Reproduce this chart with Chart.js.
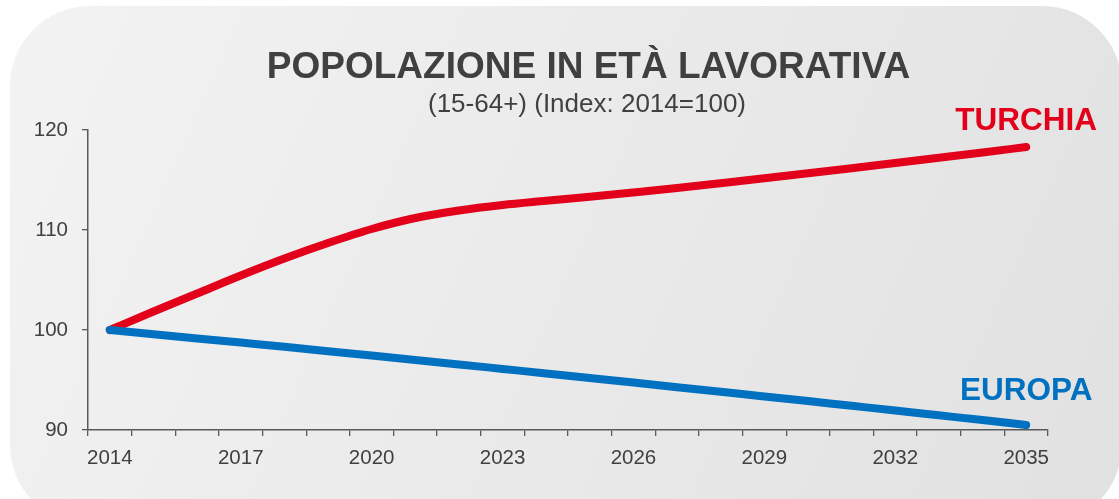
<!DOCTYPE html>
<html><head><meta charset="utf-8">
<script src="https://cdn.jsdelivr.net/npm/chart.js@4.4.1/dist/chart.umd.min.js"></script>
<style>html,body{margin:0;padding:0;background:#fff;overflow:hidden}#wrap{width:1119px;height:499px;position:relative}</style>
</head><body><div id="wrap"><canvas id="c" width="1119" height="499"></canvas></div>
<script>
const years = ['2014','2015','2016','2017','2018','2019','2020','2021','2022','2023','2024','2025','2026','2027','2028','2029','2030','2031','2032','2033','2034','2035'];
const turchia = [100.0,101.85,103.65,105.45,107.15,108.7,110.1,111.2,111.95,112.5,112.92,113.33,113.76,114.2,114.68,115.17,115.67,116.18,116.7,117.22,117.75,118.3];
const europa = [100.0,99.58,99.16,98.74,98.32,97.88,97.44,97.0,96.56,96.11,95.66,95.2,94.74,94.28,93.82,93.36,92.89,92.42,91.95,91.47,90.99,90.5];
const yTicks = [90,100,110,120];
const seriesNames = ['TURCHIA','EUROPA'];
const titleText = 'POPOLAZIONE IN ETÀ LAVORATIVA';
const subtitleText = '(15-64+) (Index: 2014=100)';

const FONT = "'Liberation Sans', Arial, sans-serif";
const labelOffsets = { TURCHIA: -17, EUROPA: -25 };

const decor = {
  id: 'decor',
  beforeDraw(chart) {
    const ctx = chart.ctx;
    ctx.save();
    ctx.fillStyle = '#ffffff';
    ctx.fillRect(0, 0, chart.width, chart.height);
    const g = ctx.createLinearGradient(10, 6, 1119, 499);
    g.addColorStop(0, '#f3f3f3');
    g.addColorStop(1, '#e1e1e1');
    ctx.fillStyle = g;
    ctx.beginPath();
    ctx.roundRect(10, 6, 1112, 519, 80);
    ctx.fill();
    ctx.fillStyle = '#404040';
    ctx.textAlign = 'center';
    ctx.textBaseline = 'alphabetic';
    ctx.font = 'bold 37px ' + FONT;
    ctx.fillText(titleText, 588.5, 78);
    ctx.font = '26px ' + FONT;
    ctx.fillText(subtitleText, 587, 112);
    ctx.restore();
  },
  afterDatasetsDraw(chart) {
    const ctx = chart.ctx;
    ctx.save();
    ctx.textAlign = 'center';
    ctx.textBaseline = 'alphabetic';
    ctx.font = 'bold 31.5px ' + FONT;
    chart.data.datasets.forEach((ds, i) => {
      const meta = chart.getDatasetMeta(i);
      const pt = meta.data[meta.data.length - 1];
      ctx.fillStyle = ds.borderColor;
      ctx.fillText(ds.label, pt.x, pt.y + labelOffsets[ds.label]);
    });
    ctx.restore();
  }
};

new Chart(document.getElementById('c'), {
  type: 'line',
  data: {
    labels: years,
    datasets: [
      { label: seriesNames[0], data: turchia, borderColor: '#e2001a', borderWidth: 8, pointRadius: 0, cubicInterpolationMode: 'monotone', borderCapStyle: 'round', borderJoinStyle: 'round', order: 1 },
      { label: seriesNames[1], data: europa, borderColor: '#0070c0', borderWidth: 8, pointRadius: 0, cubicInterpolationMode: 'monotone', borderCapStyle: 'round', borderJoinStyle: 'round', order: 0 }
    ]
  },
  options: {
    responsive: false,
    animation: false,
    devicePixelRatio: 1,
    layout: { padding: { left: 20, right: 71, top: 130, bottom: 29 } },
    plugins: { legend: { display: false }, title: { display: false }, tooltip: { enabled: false } },
    scales: {
      x: {
        type: 'category',
        offset: true,
        grid: { display: true, drawOnChartArea: false, drawTicks: true, tickLength: 6, color: '#595959', lineWidth: 1.3, offset: true },
        border: { display: true, color: '#595959', width: 1.5 },
        ticks: { autoSkip: false, maxRotation: 0, minRotation: 0, padding: 10, color: '#404040', font: { family: FONT, size: 20.5 },
          callback: (v, i) => (i % 3 === 0 ? years[i] : '') },
        afterFit: s => { s.height = 40; }
      },
      y: {
        min: 90, max: 120,
        afterBuildTicks: s => { s.ticks = yTicks.map(v => ({ value: v })); },
        grid: { display: true, drawOnChartArea: false, drawTicks: true, tickLength: 6, color: '#595959', lineWidth: 1.3 },
        border: { display: true, color: '#595959', width: 1.5 },
        ticks: { padding: 14, color: '#404040', font: { family: FONT, size: 20.5 } },
        afterFit: s => { s.width = 68; }
      }
    }
  },
  plugins: [decor]
});
</script>
</body></html>
